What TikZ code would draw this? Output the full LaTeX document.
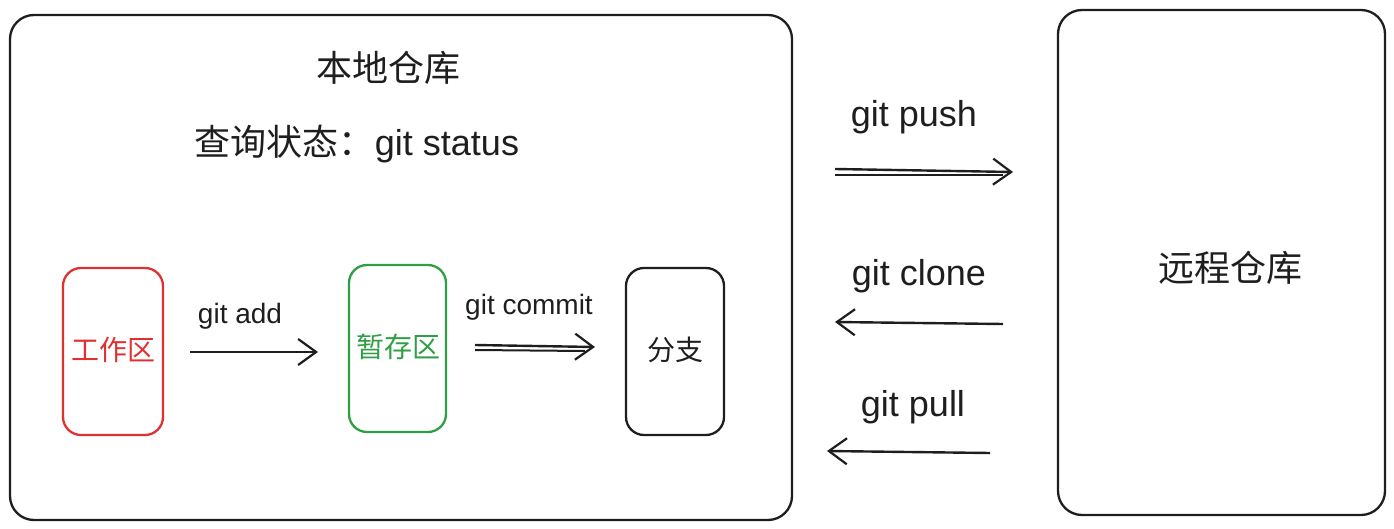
\documentclass[tikz,border=0pt]{standalone}
\usepackage{fontspec}
\setmainfont{Liberation Sans}
\newfontfamily\cjk{Noto Sans CJK SC}
\usetikzlibrary{arrows.meta}
\definecolor{myred}{HTML}{E03131}
\definecolor{mygreen}{HTML}{2F9E44}
\definecolor{myink}{HTML}{1E1E1E}
\tikzset{
  frame/.style={draw=myink, line width=2.3pt, rounded corners=24pt},
  stage/.style={line width=2.3pt, rounded corners=18pt},
  big/.style={font=\fontsize{36}{42}\selectfont, text=myink},
  small/.style={font=\fontsize{28}{33}\selectfont, text=myink},
  conn/.style={draw=myink, line width=2.4pt, -{Straight Barb[length=18pt,width=26pt,line width=2.2pt]}},
  plain/.style={draw=myink, line width=2pt},
}
\begin{document}
\begin{tikzpicture}[x=1pt,y=-1pt]
\useasboundingbox (0,0) rectangle (1394,529);
% frames
\draw[frame] (10,15) rectangle (792,520);
\draw[frame] (1058,10) rectangle (1385,515);
\node[big] (local) at (388,68) {\cjk 本地仓库};
\node[big] (status) at (357,144) {{\cjk 查询状态：}git status};
\node[big] (remote) at (1230,268) {\cjk 远程仓库};
% stages
\draw[stage, draw=myred] (63,268) rectangle (163,435);
\node[font=\fontsize{28}{33}\selectfont\cjk, text=myred] (work) at (113,350) {工作区};
\draw[stage, draw=mygreen] (349,265) rectangle (446,432);
\node[font=\fontsize{28}{33}\selectfont\cjk, text=mygreen] (stagearea) at (398,347) {暂存区};
\draw[stage, draw=myink] (626,268) rectangle (724,435);
\node[font=\fontsize{28}{33}\selectfont\cjk, text=myink] (branch) at (675,350) {分支};
% labels
\node[small] (ladd) at (240,316) {git add};
\node[small] (lcommit) at (529,307) {git commit};
\node[big] (lpush) at (914,117) {git push};
\node[big] (lclone) at (919,276) {git clone};
\node[big] (lpull) at (913,407) {git pull};
% connectors
\coordinate (a1) at (190,352); \coordinate (a2) at (318,352);
\draw[conn] (a1) -- (a2);
\coordinate (c1) at (475,345); \coordinate (c2) at (595,347);
\coordinate (c3) at (475,350); \coordinate (c4) at (585,351);
\draw[conn] (c1) -- (c2);
\draw[plain] (c3) -- (c4);
\coordinate (p1) at (835,169); \coordinate (p2) at (1013,172);
\coordinate (p3) at (835,175); \coordinate (p4) at (1003,175);
\draw[conn] (p1) -- (p2);
\draw[plain] (p3) -- (p4);
\coordinate (k1) at (1003,324); \coordinate (k2) at (835,322);
\draw[conn] (k1) -- (k2);
\coordinate (u1) at (990,453); \coordinate (u2) at (827,451);
\draw[conn] (u1) -- (u2);
\end{tikzpicture}
\end{document}
